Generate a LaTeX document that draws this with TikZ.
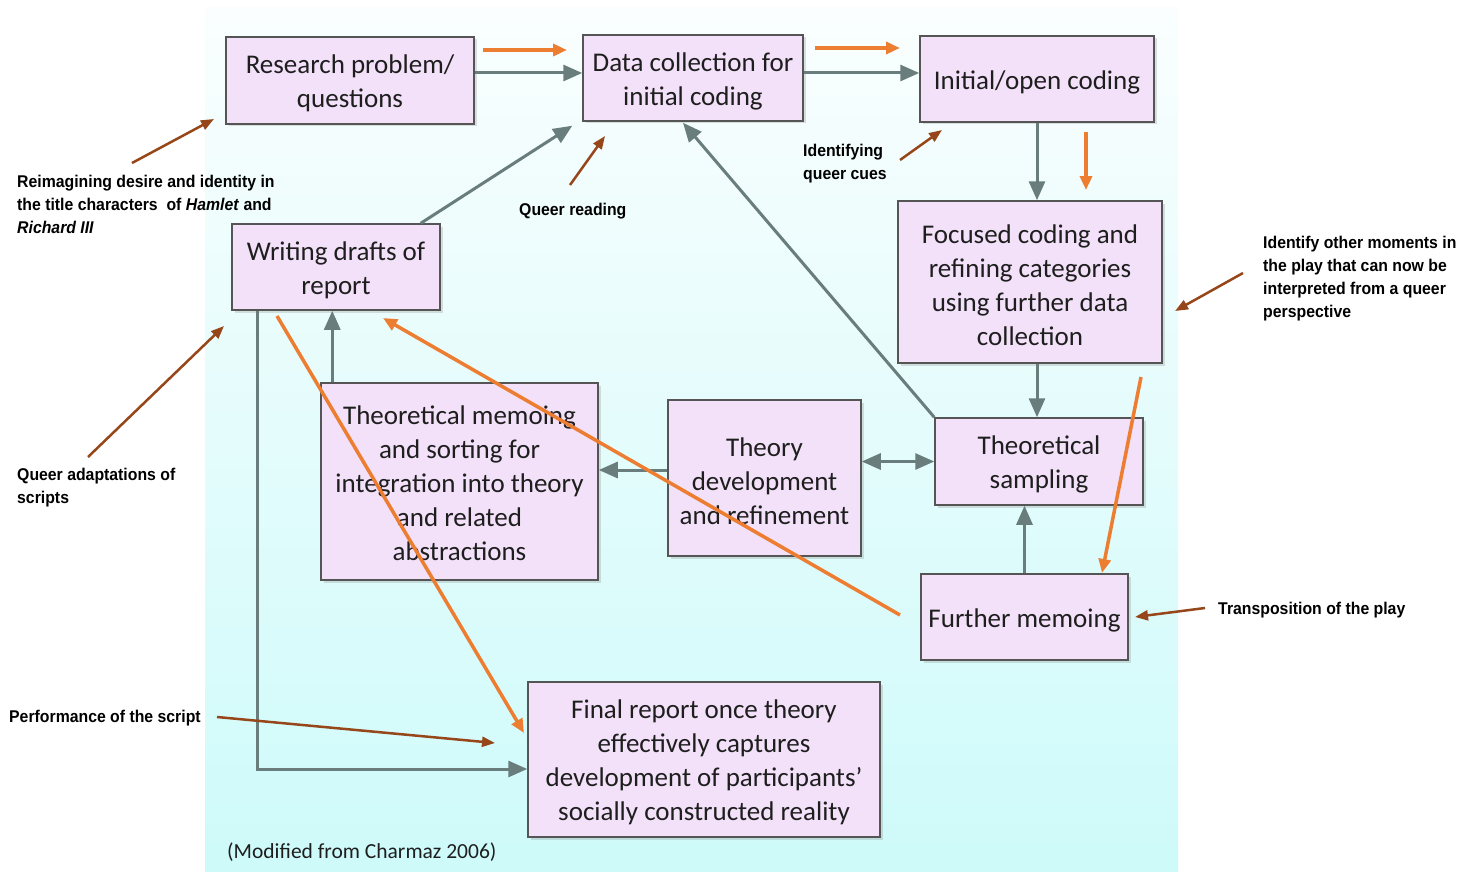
\documentclass[tikz,border=0pt]{standalone}
\usepackage{fontspec}
\usetikzlibrary{arrows.meta,calc,shadows}
\newfontfamily\boxfont{Carlito}
\newfontfamily\labfont{Liberation Sans}[FakeStretch=0.93]
\definecolor{boxfill}{RGB}{242,225,248}
\definecolor{boxline}{RGB}{85,85,85}
\definecolor{garr}{RGB}{105,125,125}
\definecolor{oarr}{RGB}{237,125,49}
\definecolor{barr}{RGB}{150,70,25}
\definecolor{bgtop}{RGB}{250,254,254}
\definecolor{bgbot}{RGB}{206,250,250}
\definecolor{txt}{RGB}{30,30,30}
\begin{document}
\begin{tikzpicture}[x=1pt,y=-1pt,
  box/.style={draw=boxline, line width=1.5pt, fill=boxfill, inner sep=0pt,
    drop shadow={opacity=0.25,shadow xshift=2.5pt,shadow yshift=-2.5pt}},
  boxtext/.style={align=center, inner sep=0pt, yshift=-3pt,
    font=\boxfont\fontsize{27}{34}\selectfont, text=txt},
  garrow/.style={draw=garr, line width=3pt, -{Triangle[length=19pt,width=16pt]}},
  gdouble/.style={draw=garr, line width=3pt, {Triangle[length=19pt,width=16pt]}-{Triangle[length=19pt,width=16pt]}},
  oarrow/.style={draw=oarr, line width=3.5pt, -{Triangle[length=14pt,width=12pt]}},
  barrow/.style={draw=barr, line width=2.5pt, -{Triangle[length=13pt,width=10pt]}},
  lab/.style={font=\labfont\bfseries\fontsize{17}{23}\selectfont, align=left, inner sep=0pt, text=black},
  credit/.style={font=\boxfont\fontsize{21.5}{26}\selectfont, inner sep=0pt, text=txt}
]
\useasboundingbox (0,0) rectangle (1470,872);
\fill[white] (0,0) rectangle (1470,872);
\fill[top color=bgtop, bottom color=bgbot] (205,8) rectangle (1178,872);

% boxes
\node[box, minimum width=248pt, minimum height=87pt,
  label={[name=rpt,boxtext]center:{Research problem/\\questions}}] (rp) at (350,80.5) {};
\node[box, minimum width=220pt, minimum height=86pt,
  label={[name=dct,boxtext]center:{Data collection for\\initial coding}}] (dc) at (693,78) {};
\node[box, minimum width=234pt, minimum height=86pt,
  label={[name=ioct,boxtext]center:{Initial/open coding}}] (ioc) at (1037,79) {};
\node[box, minimum width=264pt, minimum height=162pt,
  label={[name=fct,boxtext]center:{Focused coding and\\refining categories\\using further data\\collection}}] (fc) at (1030,282) {};
\node[box, minimum width=208pt, minimum height=86pt,
  label={[name=wdt,boxtext]center:{Writing drafts of\\report}}] (wd) at (336,267) {};
\node[box, minimum width=277pt, minimum height=197pt,
  label={[name=tmt,boxtext,yshift=1pt]center:{Theoretical memoing\\and sorting for\\integration into theory\\and related\\abstractions}}] (tm) at (459.5,481.5) {};
\node[box, minimum width=193pt, minimum height=156pt,
  label={[name=tdt,boxtext]center:{Theory\\development\\and refinement}}] (td) at (764.5,478) {};
\node[box, minimum width=208pt, minimum height=87pt,
  label={[name=tst,boxtext]center:{Theoretical\\sampling}}] (ts) at (1039,461.5) {};
\node[box, minimum width=207pt, minimum height=86pt,
  label={[name=fmt,boxtext]center:{Further memoing}}] (fm) at (1024.5,617) {};
\node[box, minimum width=352pt, minimum height=155pt,
  label={[name=frt,boxtext]center:{Final report once theory\\effectively captures\\development of participants’\\socially constructed reality}}] (fr) at (704,759.5) {};

\node[credit, anchor=west] (cr) at (227,852) {(Modified from Charmaz 2006)};

% gray connectors
\draw[garrow] ($(rp.east)+(0,-7.5)$) -- ($(dc.west)+(0,-5)$);
\draw[garrow] ($(dc.east)+(0,-5)$) -- ($(ioc.west)+(0,-6)$);
\draw[garrow] (ioc.south) -- (ioc.south |- fc.north);
\draw[garrow] ($(fc.south)+(7,0)$) -- ($(ts.north)+(-2,0)$);
\draw[garrow] (fm.north) -- (fm.north |- ts.south);
\draw[gdouble] (ts.west -| td.east) -- (ts.west);
\draw[garrow] ($(td.west)+(0,-8)$) -- ($(tm.east)+(0,-11.5)$);
\coordinate (tmT) at ($(tm.north west)+(12,0)$);
\draw[garrow] (tmT) -- (tmT |- wd.south);
\draw[garrow] ($(wd.north east)+(-20,0)$) -- ($(dc.south west)+(-10,4)$);
\draw[garrow] (ts.north west) -- ($(dc.south)+(-10,1)$);
\coordinate (wdB) at ($(wd.south west)+(26,0)$);
\draw[garrow] (wdB) |- ($(fr.west)+(0,9.5)$);

% orange connectors
\coordinate (o1s) at (483,50); \coordinate (o1e) at (567,50);
\coordinate (o2s) at (815,48); \coordinate (o2e) at (900,48);
\coordinate (o3s) at (1086,132); \coordinate (o3e) at (1086,190);
\coordinate (o4s) at (1141,377); \coordinate (o4e) at (1102,573);
\coordinate (o5s) at (900,615); \coordinate (o5e) at (383,318);
\coordinate (o6s) at (277,316); \coordinate (o6e) at (524,733);
\draw[oarrow] (o1s) -- (o1e);
\draw[oarrow] (o2s) -- (o2e);
\draw[oarrow] (o3s) -- (o3e);
\draw[oarrow] (o4s) -- (o4e);
\draw[oarrow] (o5s) -- (o5e);
\draw[oarrow] (o6s) -- (o6e);

% labels
\node[lab, anchor=west] (l1) at (17,204) {Reimagining desire and identity in\\the title characters\ \ of \textit{Hamlet} and\\\textit{Richard III}};
\node[lab, anchor=west] (l2) at (519,211) {Queer reading};
\node[lab, anchor=west] (l3) at (803,163.5) {Identifying\\queer cues};
\node[lab, anchor=west] (l4) at (1263,278.5) {Identify other moments in\\the play that can now be\\interpreted from a queer\\perspective};
\node[lab, anchor=west] (l5) at (17,487.5) {Queer adaptations of\\scripts};
\node[lab, anchor=west] (l6) at (9,718) {Performance of the script};
\node[lab, anchor=west] (l7) at (1218,610) {Transposition of the play};

% brown annotation arrows
\coordinate (b1s) at (132,163); \coordinate (b1e) at (214,119);
\coordinate (b2s) at (570,185); \coordinate (b2e) at (605,136);
\coordinate (b3s) at (900,160); \coordinate (b3e) at (942,130);
\coordinate (b4s) at (1243,273); \coordinate (b4e) at (1175,311);
\coordinate (b5s) at (88,457); \coordinate (b5e) at (224,326);
\coordinate (b6s) at (217,717); \coordinate (b6e) at (495,743);
\coordinate (b7s) at (1205,608); \coordinate (b7e) at (1135,617);
\draw[barrow] (b1s) -- (b1e);
\draw[barrow] (b2s) -- (b2e);
\draw[barrow] (b3s) -- (b3e);
\draw[barrow] (b4s) -- (b4e);
\draw[barrow] (b5s) -- (b5e);
\draw[barrow] (b6s) -- (b6e);
\draw[barrow] (b7s) -- (b7e);
\end{tikzpicture}
\end{document}
